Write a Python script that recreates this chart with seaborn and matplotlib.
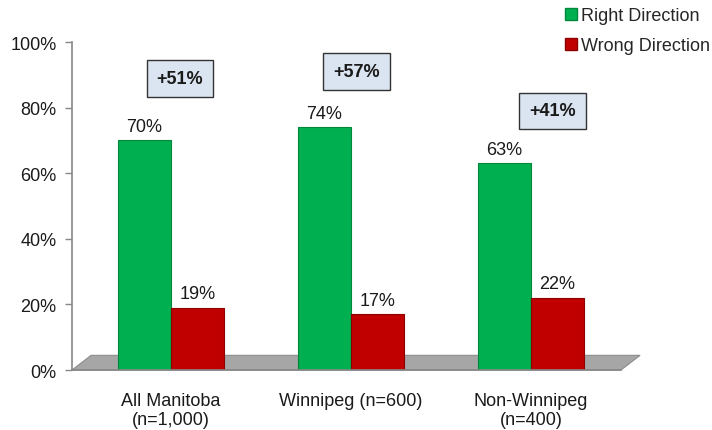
import matplotlib
matplotlib.use("Agg")
import matplotlib.pyplot as plt
import seaborn as sns
import pandas as pd
from matplotlib.patches import Polygon
from matplotlib.lines import Line2D

categories = ["All Manitoba\n(n=1,000)", "Winnipeg (n=600)", "Non-Winnipeg\n(n=400)"]
right_direction = [70, 74, 63]
wrong_direction = [19, 17, 22]
series_names = ["Right Direction", "Wrong Direction"]
gap_labels = ["+51%", "+57%", "+41%"]
gap_label_y = [89, 91, 79]
gap_label_dx = [0.05, 0.03, 0.12]
y_ticks = [0, 20, 40, 60, 80, 100]

rows = []
for c, r, w in zip(categories, right_direction, wrong_direction):
    rows.append({"cat": c, "series": series_names[0], "val": r})
    rows.append({"cat": c, "series": series_names[1], "val": w})
df = pd.DataFrame(rows)

sns.set_style("white")
plt.rcParams["font.family"] = ["Liberation Sans", "DejaVu Sans"]
FS = 13

fig = plt.figure(figsize=(7.12, 4.31), dpi=100)
ax = fig.add_axes([0.101, 0.139, 0.771, 0.761])

colors = {"Right Direction": "#00B050", "Wrong Direction": "#C00000"}
edges = {"Right Direction": "#00873C", "Wrong Direction": "#8C0000"}

# 3D-like floor
floor = Polygon([(0.0, 0.0), (1.0, 0.0), (1.035, 0.045), (0.035, 0.045)],
                closed=True, transform=ax.transAxes, facecolor="#A6A6A6",
                edgecolor="#8C8C8C", lw=0.8, zorder=0.5, clip_on=False)
ax.add_patch(floor)

sns.barplot(data=df, x="cat", y="val", hue="series", palette=colors, saturation=1,
            width=0.59, gap=0, ax=ax, legend=False, zorder=2)

for container, name in zip(ax.containers, series_names):
    for bar in container:
        bar.set_edgecolor(edges[name])
        bar.set_linewidth(0.8)
    ax.bar_label(container, labels=[f"{int(v)}%" for v in container.datavalues],
                 padding=4, fontsize=FS, color="#1a1a1a")

for i, (g, gy, dx) in enumerate(zip(gap_labels, gap_label_y, gap_label_dx)):
    ax.text(i + dx, gy, g, ha="center", va="center", fontsize=FS, fontweight="bold",
            color="#1a1a1a",
            bbox=dict(boxstyle="square,pad=0.55", facecolor="#DBE5F1", edgecolor="#333333", lw=1))

ax.set_ylim(0, 100)
ax.set_xlim(-0.55, 2.5)
ax.set_yticks(y_ticks)
ax.set_yticklabels([f"{t}%" for t in y_ticks], fontsize=FS, color="#1a1a1a")
ax.set_xticks(range(len(categories)))
ax.set_xticklabels(categories, fontsize=FS, color="#1a1a1a", linespacing=1.1)
ax.set_xticks([-0.5, 0.5, 1.5, 2.5], minor=True)
ax.tick_params(axis="x", which="major", length=0, pad=16)
ax.tick_params(axis="x", which="minor", length=5, color="#888888", width=1)
ax.tick_params(axis="y", length=5, color="#888888", width=1, left=True, pad=6)
ax.set_xlabel("")
ax.set_ylabel("")
for s in ["top", "right"]:
    ax.spines[s].set_visible(False)
for s in ["left", "bottom"]:
    ax.spines[s].set_color("#888888")
    ax.spines[s].set_linewidth(1.2)

handles = [Line2D([0], [0], marker="s", linestyle="none", markersize=8,
                  markerfacecolor=colors[n], markeredgecolor=edges[n]) for n in series_names]
fig.legend(handles, series_names, loc="upper right", bbox_to_anchor=(1.008, 1.0),
           frameon=False, fontsize=FS, handletextpad=0.05, labelspacing=0.72,
           borderaxespad=0.05, handlelength=1.0)

fig.savefig("out.png", dpi=100)
